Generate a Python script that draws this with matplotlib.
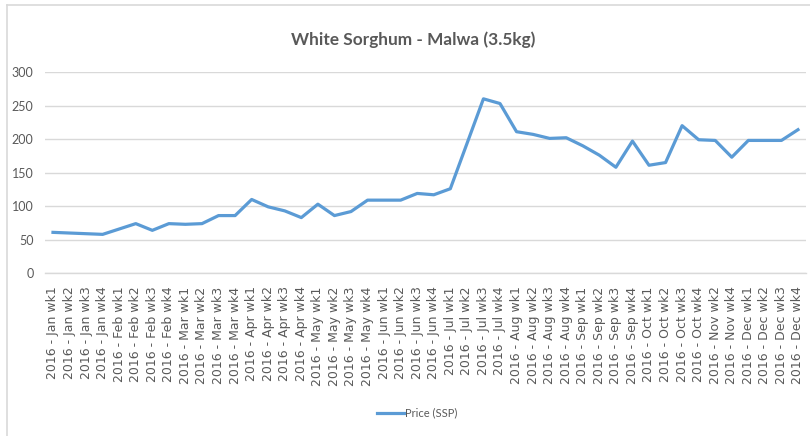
import matplotlib
matplotlib.use("Agg")
import matplotlib.pyplot as plt
from matplotlib.lines import Line2D

months = ["Jan"] * 4 + ["Feb"] * 4 + ["Mar"] * 4 + ["Apr"] * 4 + ["May"] * 4 + \
         ["Jun"] * 4 + ["Jul"] * 4 + ["Aug"] * 4 + ["Sep"] * 4 + ["Oct"] * 4 + \
         ["Nov"] * 2 + ["Dec"] * 4
weeks = ["wk1", "wk2", "wk3", "wk4"] * 10 + ["wk2", "wk4"] + ["wk1", "wk2", "wk3", "wk4"]
categories = [f"2016 - {m} {w}" for m, w in zip(months, weeks)]

price = [61, 60, 59, 58, 66, 74, 64, 74,
         73, 74, 86, 86, 110, 99, 93, 83,
         103, 86, 92, 109, 109, 109, 119, 117,
         126, 193, 260, 253, 211, 207, 201, 202,
         190, 176, 158, 197, 161, 165, 220, 199,
         198, 173, 198, 198, 198, 214]

y_ticks = [0, 50, 100, 150, 200, 250, 300]

fig = plt.figure(figsize=(8.1, 4.36), dpi=100)
ax = fig.add_axes([0.0552, 0.3732, 0.9402, 0.4617])

x = list(range(len(categories)))
ax.plot(x, price, color="#5B9BD5", lw=2.3, solid_joinstyle="round", label="Price (SSP)", zorder=3)

ax.set_xlim(-0.5, len(categories) - 0.5)
ax.set_ylim(0, 300)
ax.set_yticks(y_ticks)
ax.set_yticklabels([str(v) for v in y_ticks], family="Lato", fontsize=9, color="#595959")
ax.set_xticks(x)
ax.set_xticklabels(categories, rotation=90, family="DejaVu Sans", fontsize=9, color="#595959")
ax.tick_params(axis="both", length=0)
ax.tick_params(axis="x", pad=9.5)
ax.tick_params(axis="y", pad=8)
ax.grid(axis="y", color="#D9D9D9", lw=1)
ax.set_axisbelow(True)
for s in ["top", "right", "left"]:
    ax.spines[s].set_visible(False)
ax.spines["bottom"].set_color("#D9D9D9")
ax.spines["bottom"].set_linewidth(1)

fig.text(0.51, 0.908, "White Sorghum - Malwa (3.5kg)", ha="center", va="center",
         family="Lato", fontweight="bold", fontsize=12.4, color="#595959")

# legend
fig.legend(handles=[Line2D([0], [0], color="#5B9BD5", lw=2.3)], labels=["Price (SSP)"],
           loc="center", bbox_to_anchor=(0.515, 0.053), frameon=False,
           prop={"family": "Lato", "size": 8}, labelcolor="#595959",
           handlelength=2.4, handletextpad=0.1)

# chart border (top and left)
fig.add_artist(Line2D([7 / 810, 1], [1 - 5.5 / 436, 1 - 5.5 / 436], color="#D9D9D9", lw=1.2))
fig.add_artist(Line2D([7 / 810, 7 / 810], [0, 1 - 5.5 / 436], color="#D9D9D9", lw=1.2))

fig.savefig("out.png", dpi=100, facecolor="white")
